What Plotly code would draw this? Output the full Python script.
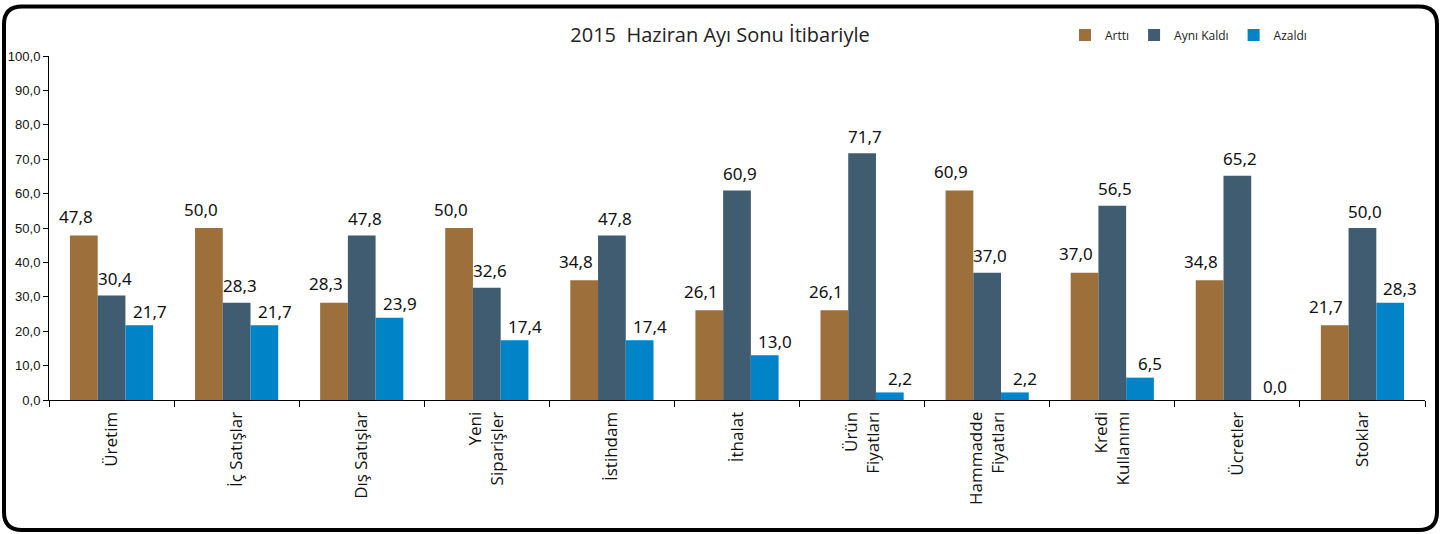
import plotly.graph_objects as go

categories = ["Üretim", "İç Satışlar", "Dış Satışlar", "Yeni<br>Siparişler", "İstihdam",
              "İthalat", "Ürün<br>Fiyatları", "Hammadde<br>Fiyatları", "Kredi<br>Kullanımı",
              "Ücretler", "Stoklar"]
series_names = ["Arttı", "Aynı Kaldı", "Azaldı"]
arttı = [47.8, 50.0, 28.3, 50.0, 34.8, 26.1, 26.1, 60.9, 37.0, 34.8, 21.7]
ayni_kaldi = [30.4, 28.3, 47.8, 32.6, 47.8, 60.9, 71.7, 37.0, 56.5, 65.2, 50.0]
azaldi = [21.7, 21.7, 23.9, 17.4, 17.4, 13.0, 2.2, 2.2, 6.5, 0.0, 28.3]
title_text = "2015\u00a0 Haziran Ayı Sonu İtibariyle"

colors = ["#9C6F3B", "#405C70", "#0084C8"]
label_xshift = [-36, 3, 38]
label_yshift = [19, 17, 14]

W, H = 1451, 534
ML, MR, MT, MB = 49, 1451 - 1425, 56, 534 - 400
PW, PH = W - ML - MR, H - MT - MB

fig = go.Figure()
all_series = [arttı, ayni_kaldi, azaldi]
for name, vals, col in zip(series_names, all_series, colors):
    fig.add_trace(go.Bar(x=categories, y=vals, name=name, marker=dict(color=col, line=dict(width=0)),
                         hoverinfo="x+y"))

annotations = []
for si, vals in enumerate(all_series):
    for c, v in zip(categories, vals):
        annotations.append(dict(x=c, y=v, xref="x", yref="y", text=f"{v:.1f}".replace(".", ","),
                                showarrow=False, xshift=label_xshift[si], yshift=label_yshift[si],
                                yanchor="middle", xanchor="center",
                                font=dict(family="Noto Sans", size=17, color="#111111")))


def px_to_paper(x, y):
    return (x - ML) / PW, (H - MB - y) / PH


# rounded frame (pixels)
L, R, T, B, r = 4, 1437, 6.5, 530, 18
pts = [("M", L + r, T), ("L", R - r, T), ("Q", R, T, R, T + r), ("L", R, B - r), ("Q", R, B, R - r, B),
       ("L", L + r, B), ("Q", L, B, L, B - r), ("L", L, T + r), ("Q", L, T, L + r, T)]
path = ""
for p in pts:
    cmd = p[0]
    coords = p[1:]
    s = []
    for i in range(0, len(coords), 2):
        px, py = px_to_paper(coords[i], coords[i + 1])
        s.append(f"{px:.5f},{py:.5f}")
    path += cmd + " " + " ".join(s) + " "
path += "Z"

leg_x, leg_y = px_to_paper(1065, 35)

fig.update_layout(
    width=W, height=H,
    margin=dict(l=ML, r=MR, t=MT, b=MB, autoexpand=False),
    paper_bgcolor="white", plot_bgcolor="white",
    barmode="group", bargap=0.335, bargroupgap=0,
    separators=",.",
    showlegend=True,
    legend=dict(orientation="h", x=leg_x, y=leg_y, xanchor="left", yanchor="middle",
                font=dict(family="Open Sans", size=12, color="#222222"), itemwidth=30,
                bgcolor="rgba(0,0,0,0)", traceorder="normal"),
    title=dict(text=title_text, x=720 / W, y=1 - 35 / H, xref="container", yref="container",
               xanchor="center", yanchor="middle",
               font=dict(family="Open Sans", size=20, color="#222222")),
    xaxis=dict(showline=True, linecolor="black", linewidth=1, ticks="outside", tickson="boundaries",
               ticklen=6, tickcolor="black", tickangle=-90, showgrid=False, automargin=False,
               tickfont=dict(family="Open Sans", size=17, color="#111111"), ticklabelstandoff=4),
    yaxis=dict(range=[0, 100], dtick=10, tickformat=".1f", showline=True, linecolor="black", linewidth=1,
               ticks="outside", ticklen=5, tickcolor="black", showgrid=False, zeroline=False,
               automargin=False,
               tickfont=dict(family="Liberation Sans", size=13, color="#111111")),
    annotations=annotations,
    shapes=[dict(type="path", path=path, xref="paper", yref="paper",
                 line=dict(color="black", width=4), fillcolor="rgba(0,0,0,0)", layer="above")],
)

fig.write_html("out.html", config={"displayModeBar": False},
               post_script="document.body.style.margin='0';")
